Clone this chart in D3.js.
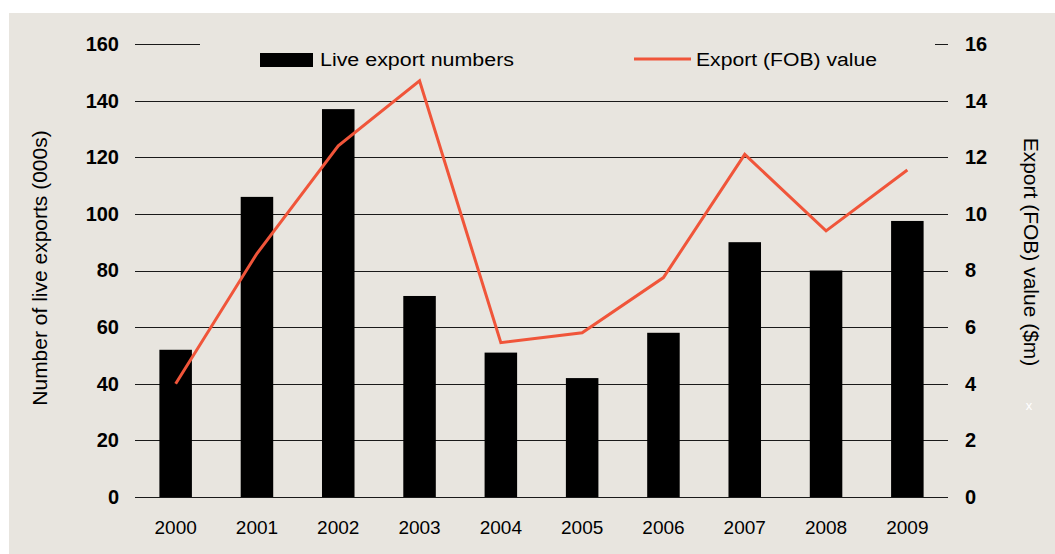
<!DOCTYPE html>
<html>
<head>
<meta charset="utf-8">
<script src="https://cdn.jsdelivr.net/npm/d3@7/dist/d3.min.js"></script>
<style>
  html, body { margin: 0; padding: 0; background: #ffffff; }
  svg { display: block; }
  text { font-family: "Liberation Sans", Arial, sans-serif; }
</style>
</head>
<body>
<svg id="chart" width="1055" height="554"></svg>
<script>
// Live export numbers (thousands of head) and export FOB value ($m), 2000-2009
const years = ["2000", "2001", "2002", "2003", "2004", "2005", "2006", "2007", "2008", "2009"];
const liveExports = [52, 106, 137, 71, 51, 42, 58, 90, 80, 97.5];
const fobValue = [4.0, 8.6, 12.4, 14.7, 5.45, 5.8, 7.75, 12.1, 9.4, 11.55];
const leftTicks = [0, 20, 40, 60, 80, 100, 120, 140, 160];
const rightTicks = [0, 2, 4, 6, 8, 10, 12, 14, 16];

const svg = d3.select("#chart");
const W = 1055, H = 554;
const plot = { left: 135, right: 948, top: 44, bottom: 497 };
const FONT = "'Liberation Sans', Arial, sans-serif";

// panel background
svg.append("rect")
  .attr("x", 9).attr("y", 13)
  .attr("width", W - 9).attr("height", H - 13)
  .attr("fill", "#e8e5df");

const x = d3.scaleBand()
  .domain(years)
  .range([plot.left, plot.right])
  .paddingInner(0.6)
  .paddingOuter(0.3);

const yL = d3.scaleLinear().domain([0, 160]).range([plot.bottom, plot.top]);
const yR = d3.scaleLinear().domain([0, 16]).range([plot.bottom, plot.top]);

// horizontal gridlines from the left axis ticks
svg.append("g")
  .selectAll("line")
  .data(leftTicks)
  .join("line")
  .attr("x1", plot.left).attr("x2", plot.right)
  .attr("y1", d => Math.round(yL(d)) + 0.5)
  .attr("y2", d => Math.round(yL(d)) + 0.5)
  .attr("stroke", "#1a1a1a")
  .attr("stroke-width", 1.2);

// left axis labels
const leftAxis = d3.axisLeft(yL).tickValues(leftTicks).tickSize(0).tickPadding(16);
const gl = svg.append("g").attr("transform", `translate(${plot.left},0)`).call(leftAxis);
gl.select(".domain").remove();
gl.selectAll("text")
  .attr("font-size", 20).attr("font-weight", "bold").attr("fill", "#000")
  .attr("font-family", FONT);

// right axis labels
const rightAxis = d3.axisRight(yR).tickValues(rightTicks).tickSize(0).tickPadding(17);
const gr = svg.append("g").attr("transform", `translate(${plot.right},0)`).call(rightAxis);
gr.select(".domain").remove();
gr.selectAll("text")
  .attr("font-size", 20).attr("font-weight", "bold").attr("fill", "#000")
  .attr("font-family", FONT);

// category axis labels
const bottomAxis = d3.axisBottom(x).tickSize(0).tickPadding(24);
const gb = svg.append("g").attr("transform", `translate(0,${plot.bottom})`).call(bottomAxis);
gb.select(".domain").remove();
gb.selectAll("text")
  .attr("font-size", 19).attr("fill", "#000")
  .attr("font-family", FONT);

// bars
svg.append("g")
  .selectAll("rect")
  .data(years.map((y, i) => ({ year: y, v: liveExports[i] })))
  .join("rect")
  .attr("x", d => x(d.year))
  .attr("width", x.bandwidth())
  .attr("y", d => yL(d.v))
  .attr("height", d => plot.bottom - yL(d.v))
  .attr("fill", "#000");

// FOB value line
const line = d3.line()
  .x((d, i) => x(years[i]) + x.bandwidth() / 2)
  .y(d => yR(d));
svg.append("path")
  .datum(fobValue)
  .attr("d", line)
  .attr("fill", "none")
  .attr("stroke", "#f0553a")
  .attr("stroke-width", 3)
  .attr("stroke-linejoin", "miter");

// legend with a panel-coloured backing over the top gridline
const legend = svg.append("g");
legend.append("rect")
  .attr("x", 200).attr("y", 36).attr("width", 735).attr("height", 36)
  .attr("fill", "#e8e5df");
legend.append("rect")
  .attr("x", 260).attr("y", 53).attr("width", 53).attr("height", 14)
  .attr("fill", "#000");
legend.append("text")
  .attr("x", 320).attr("y", 66)
  .attr("font-size", 18).attr("fill", "#000")
  .attr("textLength", 194).attr("lengthAdjust", "spacingAndGlyphs")
  .text("Live export numbers");
legend.append("line")
  .attr("x1", 634).attr("x2", 691).attr("y1", 59).attr("y2", 59)
  .attr("stroke", "#f0553a").attr("stroke-width", 3);
legend.append("text")
  .attr("x", 696).attr("y", 66)
  .attr("font-size", 18).attr("fill", "#000")
  .attr("textLength", 181).attr("lengthAdjust", "spacingAndGlyphs")
  .text("Export (FOB) value");

// axis titles
svg.append("text")
  .attr("transform", "translate(47,268) rotate(-90)")
  .attr("text-anchor", "middle")
  .attr("font-size", 21).attr("fill", "#000")
  .text("Number of live exports (000s)");
svg.append("text")
  .attr("transform", "translate(1024,252) rotate(90)")
  .attr("text-anchor", "middle")
  .attr("font-size", 21).attr("fill", "#000")
  .text("Export (FOB) value ($m)");
svg.append("text")
  .attr("x", 1029).attr("y", 410)
  .attr("text-anchor", "middle")
  .attr("font-size", 13).attr("fill", "#ffffff")
  .text("x");
</script>
</body>
</html>
